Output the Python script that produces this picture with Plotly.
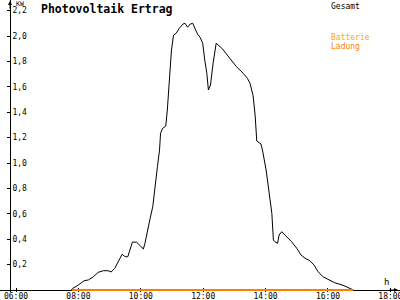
import plotly.graph_objects as go

DAY = "2024-06-01 "

times = ["07:46", "07:49", "07:57", "08:04", "08:11", "08:19", "08:29", "08:38", "08:48", "08:57",
         "09:03", "09:10", "09:17", "09:24", "09:30", "09:35", "09:39", "09:44", "09:52", "09:58",
         "10:05", "10:08", "10:12", "10:18", "10:23", "10:27", "10:32", "10:36", "10:38", "10:42",
         "10:48", "10:51", "10:55", "10:59", "11:03", "11:08", "11:14", "11:21", "11:25", "11:30",
         "11:35", "11:40", "11:44", "11:49", "11:54", "11:59", "12:03", "12:07", "12:10", "12:14",
         "12:19", "12:25", "12:36", "12:48", "13:04", "13:17", "13:25", "13:30", "13:36", "13:40",
         "13:43", "13:51", "13:54", "14:01", "14:07", "14:12", "14:15", "14:18", "14:23", "14:26",
         "14:31", "14:41", "14:50", "15:00", "15:08", "15:16", "15:25", "15:33", "15:41", "15:50",
         "16:01", "16:13", "16:29", "16:42", "16:49"]
gesamt = [0.0, 0.013, 0.031, 0.053, 0.073, 0.079, 0.105, 0.139, 0.152, 0.152,
          0.142, 0.171, 0.223, 0.281, 0.262, 0.262, 0.315, 0.378, 0.376, 0.349,
          0.323, 0.368, 0.459, 0.565, 0.656, 0.813, 0.971, 1.102, 1.234, 1.273,
          1.291, 1.417, 1.680, 1.890, 2.008, 2.021, 2.061, 2.094, 2.100, 2.069,
          2.094, 2.100, 2.061, 2.016, 1.990, 1.943, 1.811, 1.706, 1.575, 1.614,
          1.785, 1.943, 1.903, 1.837, 1.758, 1.706, 1.667, 1.628, 1.530, 1.370,
          1.173, 1.150, 1.102, 0.945, 0.735, 0.604, 0.394, 0.380, 0.368, 0.433,
          0.459, 0.420, 0.380, 0.328, 0.276, 0.250, 0.231, 0.197, 0.144, 0.105,
          0.079, 0.057, 0.037, 0.013, 0.0]

batt_times = ["07:47", "16:48"]
batt_vals = [0.0, 0.0]

x_ticks = ["06:00", "08:00", "10:00", "12:00", "14:00", "16:00", "18:00"]
y_ticks = [0.2, 0.4, 0.6, 0.8, 1.0, 1.2, 1.4, 1.6, 1.8, 2.0, 2.2]

FONT = "DejaVu Sans Mono"
ORANGE = "#FF8000"
PX_PER_KW = 127.0

fig = go.Figure()
fig.add_trace(go.Scatter(x=[DAY + t for t in times], y=gesamt, mode="lines",
                         line=dict(color="black", width=1), name="Gesamt"))
fig.add_trace(go.Scatter(x=[DAY + t for t in batt_times], y=batt_vals, mode="lines",
                         line=dict(color=ORANGE, width=2), name="Batterie Ladung"))

fig.update_layout(
    width=400, height=300,
    margin=dict(l=0, r=0, t=0, b=8, autoexpand=False),
    paper_bgcolor="white", plot_bgcolor="white",
    showlegend=False,
    separators=",.",
    font=dict(family=FONT, size=8, color="black"),
    xaxis=dict(
        type="date",
        range=[DAY + "05:29:12", DAY + "18:18:30"],
        tickvals=[DAY + t for t in x_ticks], ticktext=x_ticks,
        showgrid=False, zeroline=False,
        showline=False,
        ticks="inside", ticklen=4, tickcolor="black",
        ticklabelstandoff=-2,
        ticklabeloverflow="allow",
        automargin=False,
        layer="below traces",
        tickfont=dict(family=FONT, size=8, color="black"),
    ),
    yaxis=dict(
        range=[-2 / PX_PER_KW, 290 / PX_PER_KW],
        tickvals=y_ticks, tickformat=".1f",
        showgrid=False,
        zeroline=True, zerolinecolor="black", zerolinewidth=1,
        anchor="free", position=0.025,
        showline=True, linecolor="black", linewidth=1,
        ticks="outside", ticklen=3, tickcolor="black",
        ticklabelposition="inside",
        ticklabeloverflow="allow",
        automargin=False,
        layer="below traces",
        tickfont=dict(family=FONT, size=8, color="black"),
    ),
)

# axis arrows and unit labels
fig.add_annotation(xref="paper", yref="paper", x=0.025, y=1.0, ax=0, ay=10,
                   showarrow=True, arrowhead=2, arrowsize=0.8, arrowwidth=1, arrowcolor="black", text="")
fig.add_annotation(xref="paper", yref="y", x=0.995, y=0, ax=-10, ay=0,
                   showarrow=True, arrowhead=2, arrowsize=0.8, arrowwidth=1, arrowcolor="black", text="")
fig.add_annotation(xref="paper", yref="paper", x=0.035, y=1.0, xanchor="left", yanchor="top",
                   text="KW", showarrow=False, yshift=2, font=dict(family=FONT, size=6.5, color="black"))
fig.add_annotation(xref="paper", yref="y", x=0.967, y=0, xanchor="center", yanchor="bottom",
                   text="h", showarrow=False, yshift=1, font=dict(family=FONT, size=9, color="black"))

# title
fig.add_annotation(xref="paper", yref="paper", x=0.098, y=1.0, xanchor="left", yanchor="top",
                   text="<b>Photovoltaik Ertrag</b>", showarrow=False,
                   font=dict(family=FONT, size=11.5, color="black"))

# legend texts
fig.add_annotation(xref="paper", yref="paper", x=0.823, y=1.0, xanchor="left", yanchor="top",
                   text="Gesamt", showarrow=False, font=dict(family=FONT, size=8, color="black"))
fig.add_annotation(xref="paper", yref="paper", x=0.823, y=0.893, xanchor="left", yanchor="top",
                   text="Batterie", showarrow=False, font=dict(family=FONT, size=8, color="#FFA500"))
fig.add_annotation(xref="paper", yref="paper", x=0.823, y=0.862, xanchor="left", yanchor="top",
                   text="Ladung", showarrow=False, font=dict(family=FONT, size=8, color=ORANGE))

fig.write_html("out.html")
